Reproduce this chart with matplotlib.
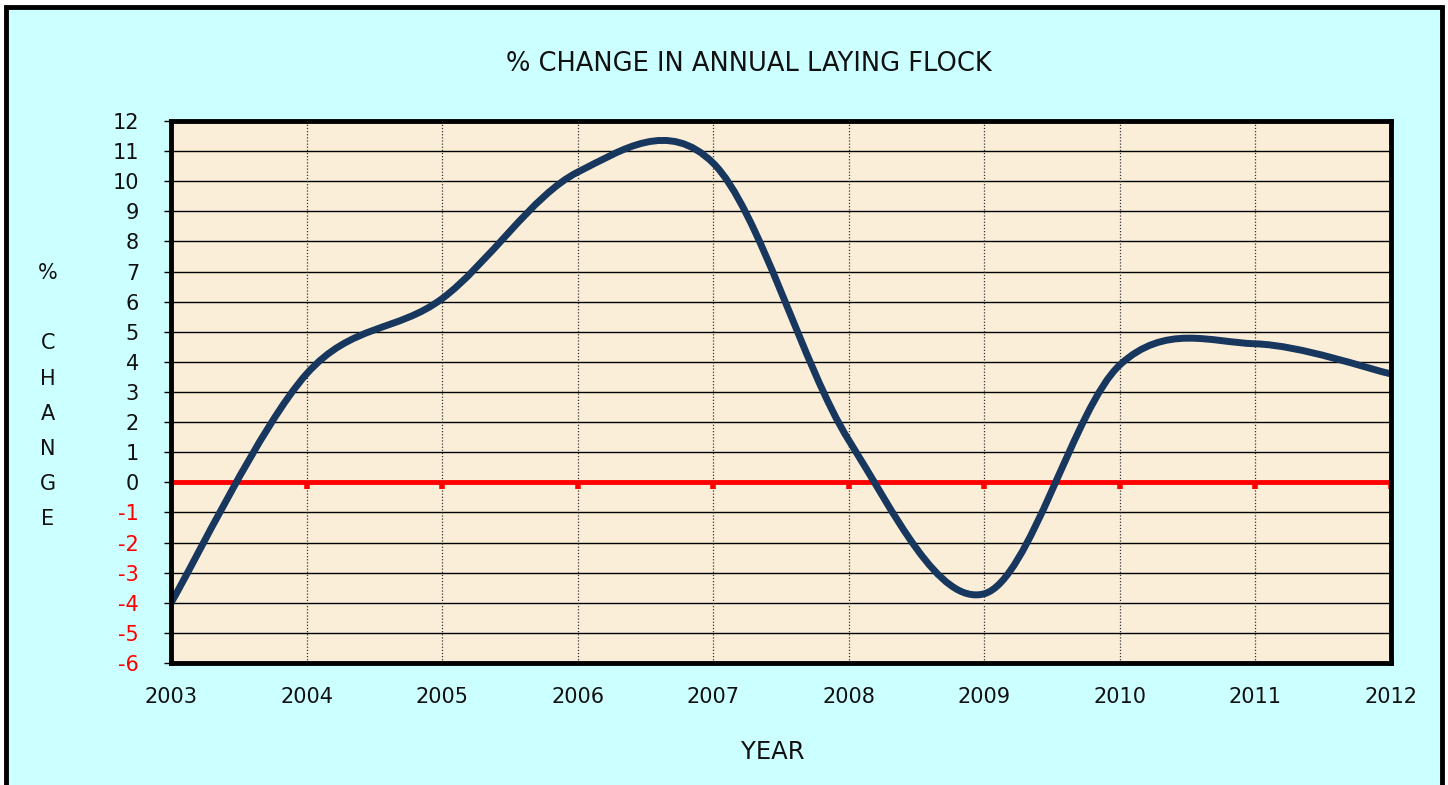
import matplotlib
matplotlib.use("Agg")
import matplotlib.pyplot as plt
from matplotlib.path import Path
from matplotlib.patches import PathPatch, Rectangle

plt.rcParams['axes.unicode_minus'] = False

# data
years = [2003, 2004, 2005, 2006, 2007, 2008, 2009, 2010, 2011, 2012]
pct_change = [-4.0, 3.6, 6.1, 10.3, 10.6, 1.4, -3.7, 3.9, 4.6, 3.6]
y_ticks = list(range(-6, 13))

CYAN = '#CCFFFF'
PAPER = '#FBEED8'
NAVY = '#17375E'


def smooth_path(xs, ys):
    # Excel style smoothed line: bezier segments through the points
    pts = list(zip(xs, ys))
    n = len(pts)
    verts = [pts[0]]
    codes = [Path.MOVETO]
    for i in range(n - 1):
        p0 = pts[max(i - 1, 0)]
        p1 = pts[i]
        p2 = pts[i + 1]
        p3 = pts[min(i + 2, n - 1)]
        c1 = (p1[0] + (p2[0] - p0[0]) / 6, p1[1] + (p2[1] - p0[1]) / 6)
        c2 = (p2[0] - (p3[0] - p1[0]) / 6, p2[1] - (p3[1] - p1[1]) / 6)
        verts += [c1, c2, p2]
        codes += [Path.CURVE4] * 3
    return Path(verts, codes)


fig = plt.figure(figsize=(14.48, 7.85), dpi=100)
fig.patch.set_facecolor('white')
fig.patches.append(Rectangle((0.0038, -0.05), 0.9924, 1.041, transform=fig.transFigure,
                             facecolor=CYAN, edgecolor='black', linewidth=3.5, zorder=-5))

ax = fig.add_axes([0.1181, 0.1554, 0.8425, 0.6905])
ax.set_facecolor(PAPER)
ax.set_xlim(years[0], years[-1])
ax.set_ylim(y_ticks[0], y_ticks[-1])

# grid
for y in y_ticks:
    ax.axhline(y, color='black', lw=1.0, zorder=1)
for x in years:
    ax.axvline(x, color='#333333', lw=0.9, ls=(0, (1, 1.5)), zorder=1)

# zero line with small red tick marks
ax.axhline(0, color='red', lw=3.5, zorder=2)
ax.vlines(years, -0.22, 0, color='red', lw=4, zorder=2)

ax.add_patch(PathPatch(smooth_path(years, pct_change), fill=False, edgecolor=NAVY,
                       lw=5, capstyle='butt', zorder=3))

ax.set_xticks(years)
ax.set_xticklabels([str(y) for y in years])
ax.set_yticks(y_ticks)
ax.tick_params(axis='x', length=0, pad=17, labelsize=15, labelcolor='#111111')
ax.tick_params(axis='y', length=5, width=1, pad=18, labelsize=15, direction='out')
for lab, v in zip(ax.get_yticklabels(), y_ticks):
    lab.set_color('red' if v < 0 else '#111111')

for s in ax.spines.values():
    s.set_linewidth(3.5)
    s.set_color('black')
    s.set_zorder(4)

fig.text(0.517, 0.918, '% CHANGE IN ANNUAL LAYING FLOCK', ha='center', va='center',
         fontsize=18.5, color='#111111')
fig.text(0.534, 0.042, 'YEAR', ha='center', va='center', fontsize=17.5, color='#111111')
fig.text(0.033, 0.665, '%\n\nC\nH\nA\nN\nG\nE', ha='center', va='top', fontsize=15,
         linespacing=1.95, color='#111111')

fig.savefig('out.png', dpi=100, facecolor=fig.get_facecolor())
